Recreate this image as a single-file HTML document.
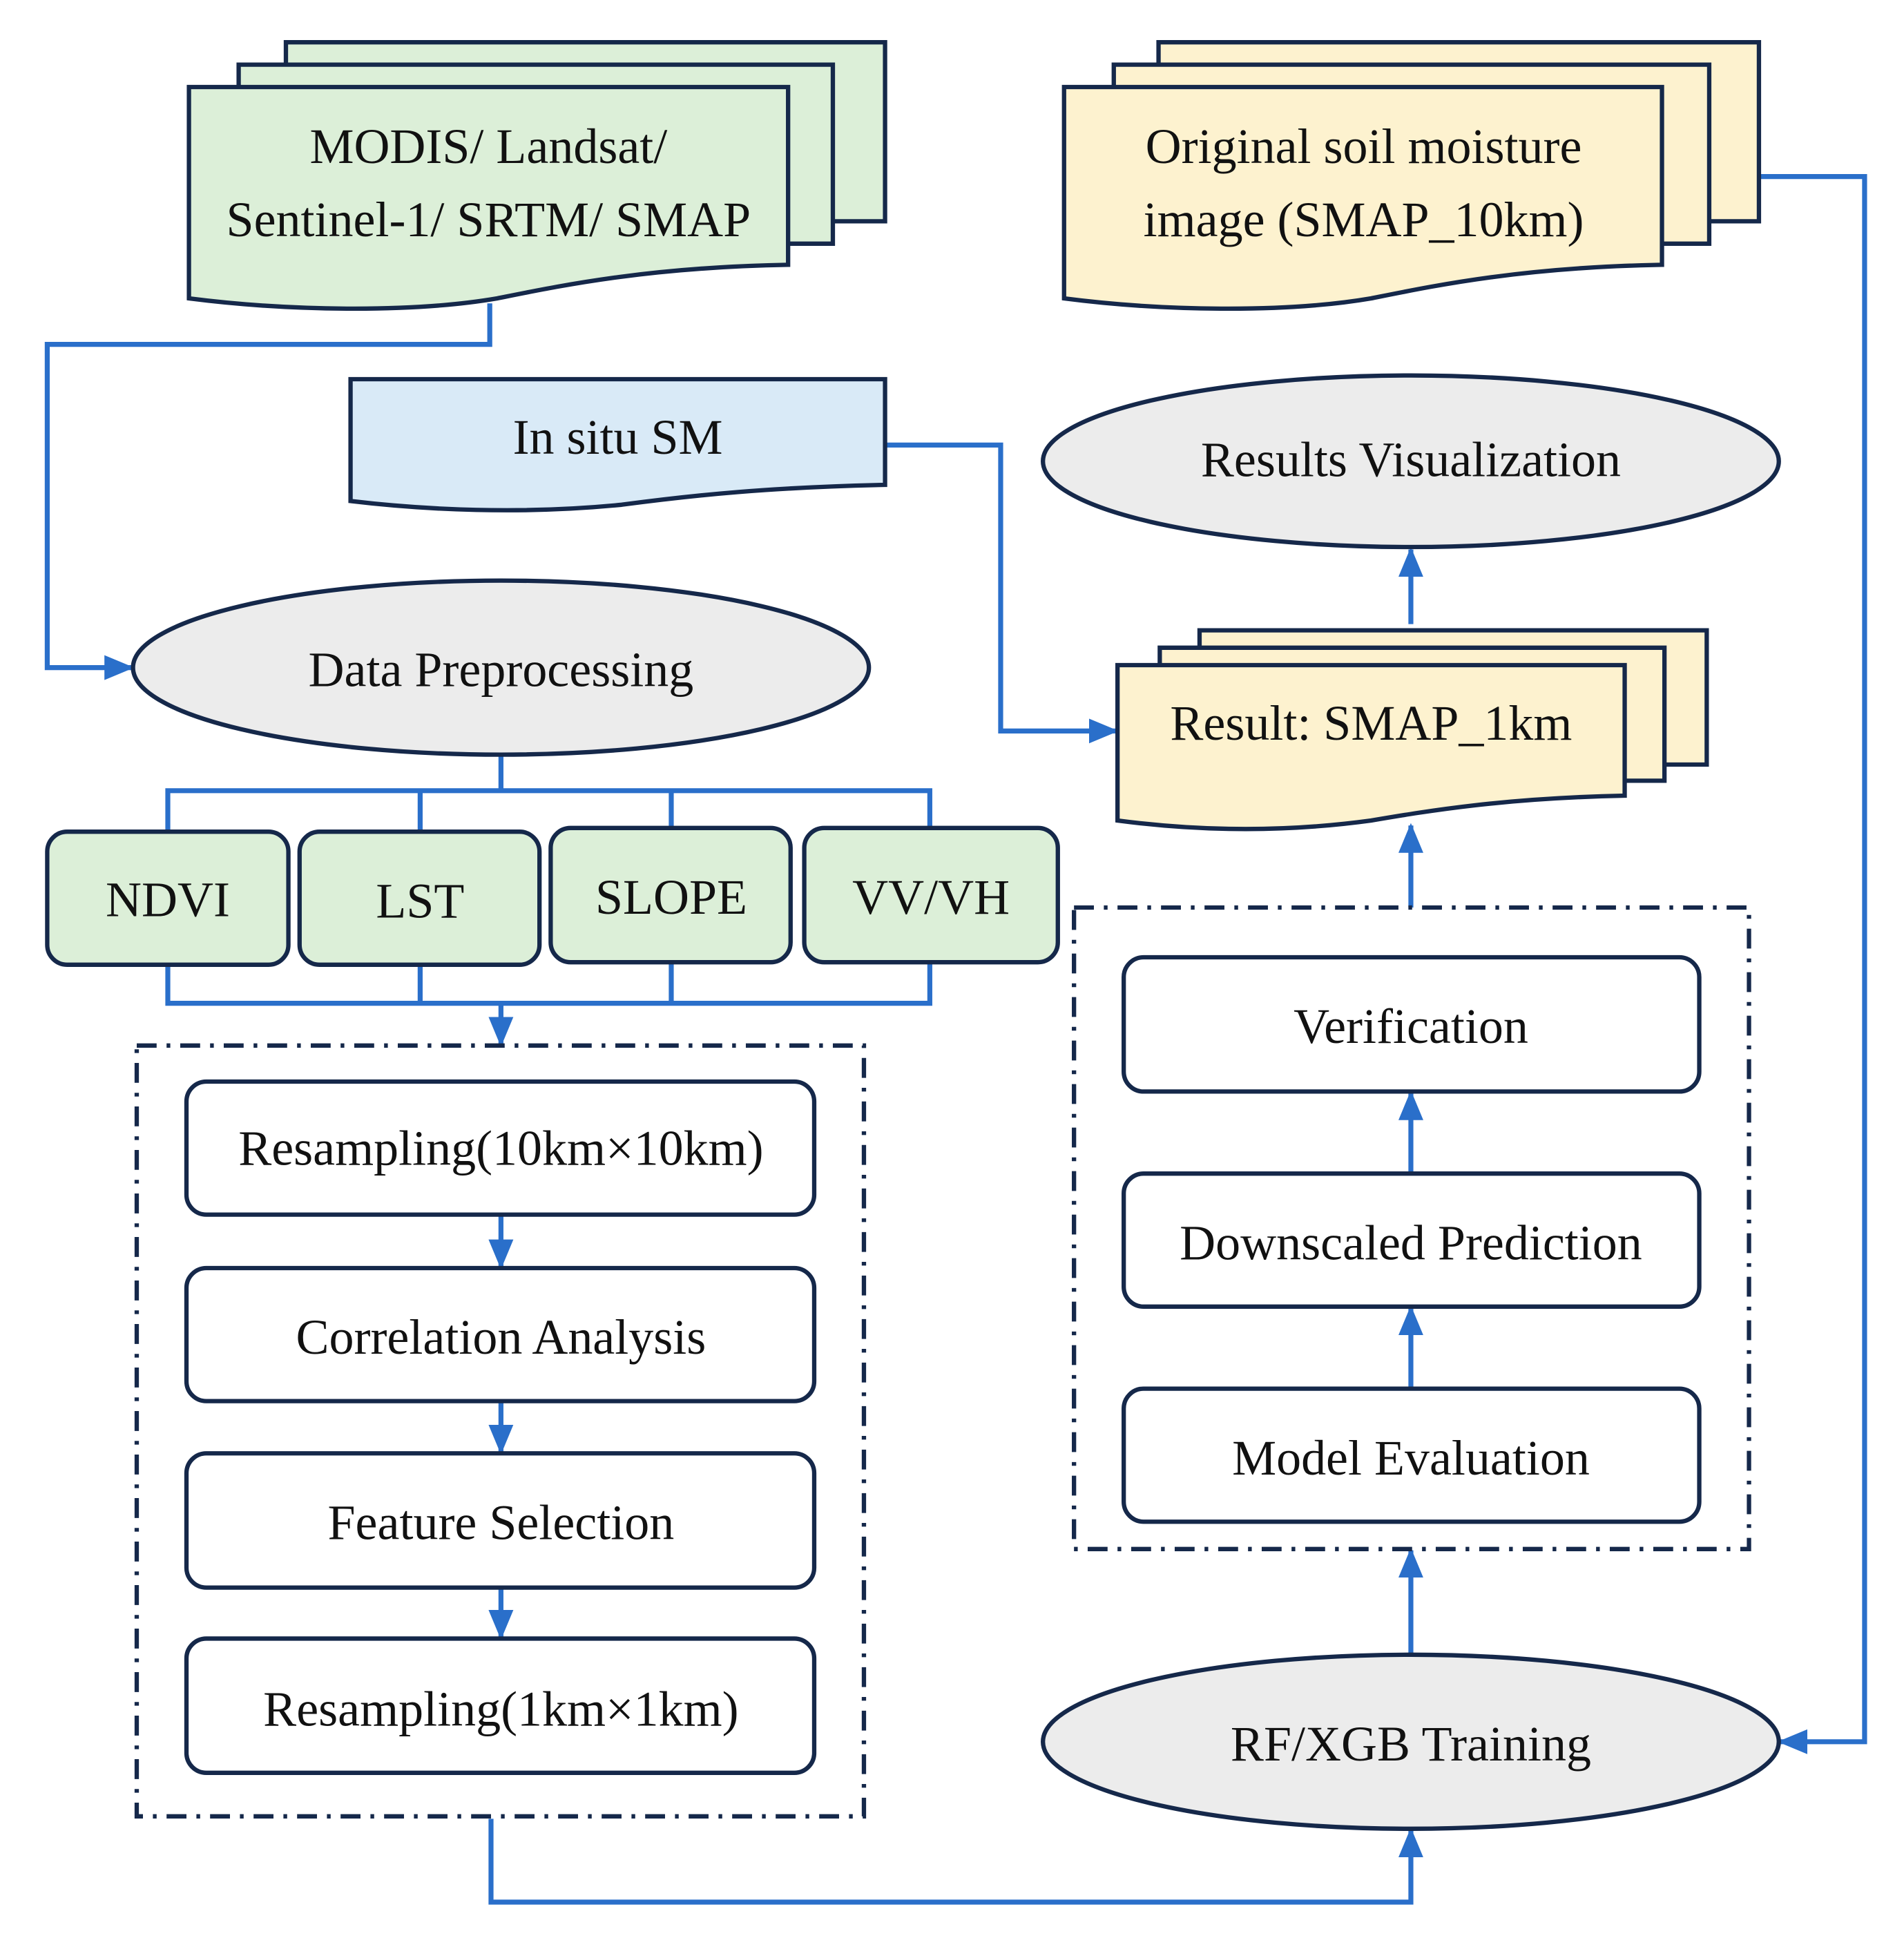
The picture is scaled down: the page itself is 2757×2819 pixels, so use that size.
<!DOCTYPE html>
<html><head><meta charset="utf-8"><style>html,body{margin:0;padding:0;background:#fff}svg{display:block}</style></head>
<body>
<svg width="2757" height="2819" viewBox="0 0 1531.7 1566.1" preserveAspectRatio="none" xmlns="http://www.w3.org/2000/svg">
<defs>
<marker id="a" markerWidth="6" markerHeight="5" refX="5.5" refY="2.5" orient="auto" markerUnits="strokeWidth"><path d="M0,0 L6,2.5 L0,5 Z" fill="#2a6fca"/></marker>
</defs>
<g fill="none" stroke="#2a6fca" stroke-width="4" stroke-linejoin="miter">
<path d="M394,244 V277 H38 V537 H106" marker-end="url(#a)"/>
<path d="M712,358 H805 V588 H898" marker-end="url(#a)"/>
<path d="M1415,142 H1500 V1401 H1432" marker-end="url(#a)"/>
<path d="M403,607 V636 M135,669 V636 H748 V666 M338,669 V636 M540,666 V636"/>
<path d="M135,776 V807 H748 V774 M338,776 V807 M540,774 V807"/>
<path d="M403,807 V840" marker-end="url(#a)"/>
<path d="M403,977 V1019" marker-end="url(#a)"/>
<path d="M403,1127 V1168" marker-end="url(#a)"/>
<path d="M403,1277 V1317" marker-end="url(#a)"/>
<path d="M1135,1117 V1052" marker-end="url(#a)"/>
<path d="M1135,944 V879" marker-end="url(#a)"/>
<path d="M1135,730 V664" marker-end="url(#a)"/>
<path d="M1135,502 V442" marker-end="url(#a)"/>
<path d="M1135,1331 V1247" marker-end="url(#a)"/>
<path d="M395,1463 V1530 H1135 V1472" marker-end="url(#a)"/>
</g>
<g stroke="#15284a" stroke-width="3.5">
<path d="M230,34 H712 V178 H230 Z" fill="#dcefd8"/>
<path d="M192,52 H670 V196 H192 Z" fill="#dcefd8"/>
<path d="M152,70 H634 V213 C520,215 450,230 400,240 C330,252 230,250 152,240 Z" fill="#dcefd8"/>
<path d="M932,34 H1415 V178 H932 Z" fill="#fdf2cf"/>
<path d="M896,52 H1375 V196 H896 Z" fill="#fdf2cf"/>
<path d="M856,70 H1337 V213 C1223,215 1153,230 1103,240 C1033,252 933,250 856,240 Z" fill="#fdf2cf"/>
<path d="M282,305 H712 V390 C620,392 560,398 500,406 C420,414 340,410 282,403 Z" fill="#d9eaf7"/>
<path d="M965,507 H1373 V615 H965 Z" fill="#fdf2cf"/>
<path d="M933,521 H1339 V628 H933 Z" fill="#fdf2cf"/>
<path d="M899,535 H1307 V640 C1210,642 1150,652 1103,660 C1030,670 960,668 899,660 Z" fill="#fdf2cf"/>
<ellipse cx="1135" cy="371" rx="296" ry="69" fill="#ececec"/>
<ellipse cx="403" cy="537" rx="296" ry="70" fill="#ececec"/>
<ellipse cx="1135" cy="1401" rx="296" ry="70" fill="#ececec"/>
<rect x="38" y="669" width="194" height="107" rx="16" fill="#dcefd8"/>
<rect x="241" y="669" width="193" height="107" rx="16" fill="#dcefd8"/>
<rect x="443" y="666" width="193" height="108" rx="16" fill="#dcefd8"/>
<rect x="647" y="666" width="204" height="108" rx="16" fill="#dcefd8"/>
<g fill="#fff">
<rect x="150" y="870" width="505" height="107" rx="16"/>
<rect x="150" y="1020" width="505" height="107" rx="16"/>
<rect x="150" y="1169" width="505" height="108" rx="16"/>
<rect x="150" y="1318" width="505" height="108" rx="16"/>
<rect x="904" y="770" width="463" height="108" rx="16"/>
<rect x="904" y="944" width="463" height="107" rx="16"/>
<rect x="904" y="1117" width="463" height="107" rx="16"/>
</g>
<g fill="none" stroke-dasharray="16,8,3,8">
<rect x="110" y="841" width="585" height="620"/>
<rect x="864" y="730" width="543" height="516"/>
</g>
</g>
<g font-family="'Liberation Serif', serif" font-size="40" fill="#111" text-anchor="middle">
<text x="393" y="131">MODIS/ Landsat/</text>
<text x="393" y="190">Sentinel-1/ SRTM/ SMAP</text>
<text x="1097" y="131">Original soil moisture</text>
<text x="1097" y="190">image (SMAP_10km)</text>
<text x="497" y="365">In situ SM</text>
<text x="1135" y="383">Results Visualization</text>
<text x="403" y="552">Data Preprocessing</text>
<text x="1103" y="595">Result: SMAP_1km</text>
<text x="135" y="737">NDVI</text>
<text x="338" y="738">LST</text>
<text x="540" y="735">SLOPE</text>
<text x="749" y="735">VV/VH</text>
<text x="403" y="937">Resampling(10km×10km)</text>
<text x="403" y="1089">Correlation Analysis</text>
<text x="403" y="1238">Feature Selection</text>
<text x="403" y="1388">Resampling(1km×1km)</text>
<text x="1135" y="839">Verification</text>
<text x="1135" y="1013">Downscaled Prediction</text>
<text x="1135" y="1186">Model Evaluation</text>
<text x="1135" y="1416">RF/XGB Training</text>
</g>
</svg>
</body></html>
